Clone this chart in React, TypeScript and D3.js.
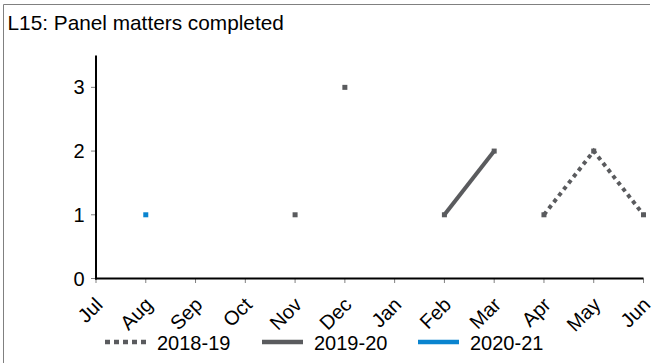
import React from "react";
import * as d3 from "d3";

const months = ["Jul", "Aug", "Sep", "Oct", "Nov", "Dec", "Jan", "Feb", "Mar", "Apr", "May", "Jun"];
const yTicks = [0, 1, 2, 3];
const s1819: (number | null)[] = [null, null, null, null, 1, null, null, null, null, 1, 2, 1];
const s1920: (number | null)[] = [null, null, null, null, null, 3, null, 1, 2, null, null, null];
const s2021: (number | null)[] = [null, 1, null, null, null, null, null, null, null, null, null, null];
const seriesNames = ["2018-19", "2019-20", "2020-21"];

const GRAY = "#5a5b5e";
const BLUE = "#0a84cf";

export default function App() {
  const W = 659, H = 363;
  const x = d3.scalePoint<string>().domain(months).range([96, 643.5]);
  const y = d3.scaleLinear().domain([0, 3.5]).range([278.5, 55.5]);
  const line = d3
    .line<number | null>()
    .defined((d) => d !== null)
    .x((_, i) => x(months[i])!)
    .y((d) => y(d as number));

  const series = [
    { name: seriesNames[0], data: s1819, color: GRAY, dash: "4,4", ldash: "5,4" },
    { name: seriesNames[1], data: s1920, color: GRAY, dash: undefined, ldash: undefined },
    { name: seriesNames[2], data: s2021, color: BLUE, dash: undefined, ldash: undefined },
  ];

  const legendX = [105, 262, 418];

  return (
    <svg width={W} height={H} style={{ position: "absolute", left: 0, top: 0, fontFamily: "Liberation Sans, Arial, sans-serif" }}>
      <rect x={0} y={0} width={W} height={H} fill="#fff" />
      <path d={`M3.5,${H} V4.5 H650`} fill="none" stroke="#808080" strokeWidth={1} />
      <text x={7.5} y={30} fontSize={20.8} fill="#000">L15: Panel matters completed</text>

      {yTicks.map((t) => (
        <g key={t}>
          <line x1={91} x2={96} y1={y(t)} y2={y(t)} stroke="#808080" strokeWidth={1} />
          <text x={84.5} y={y(t)} dy="0.35em" textAnchor="end" fontSize={20} fill="#000">{t}</text>
        </g>
      ))}
      {months.map((m) => (
        <g key={m}>
          <line x1={x(m)} x2={x(m)} y1={278.5} y2={283} stroke="#808080" strokeWidth={1} />
          <text
            transform={`translate(${x(m)! + 8},${306}) rotate(-45)`}
            textAnchor="end"
            fontSize={20}
            fill="#000"
          >
            {m}
          </text>
        </g>
      ))}
      <line x1={96} x2={96} y1={55.5} y2={279.5} stroke="#000" strokeWidth={2} />
      <line x1={95} x2={643.5} y1={278.5} y2={278.5} stroke="#000" strokeWidth={2} />

      {series.map((s) => (
        <g key={s.name}>
          <path d={line(s.data) || ""} fill="none" stroke={s.color} strokeWidth={4} strokeDasharray={s.dash} />
          {s.data.map((v, i) =>
            v === null ? null : (
              <rect key={i} x={x(months[i])! - 2.5} y={y(v) - 2.5} width={5} height={5} fill={s.color} />
            )
          )}
        </g>
      ))}

      {series.map((s, i) => (
        <g key={s.name}>
          <line x1={legendX[i]} x2={legendX[i] + 41} y1={342} y2={342} stroke={s.color} strokeWidth={4.5} strokeDasharray={s.ldash} />
          <text x={legendX[i] + 52} y={342.5} dy="0.35em" fontSize={20} fill="#000">{s.name}</text>
        </g>
      ))}
    </svg>
  );
}
